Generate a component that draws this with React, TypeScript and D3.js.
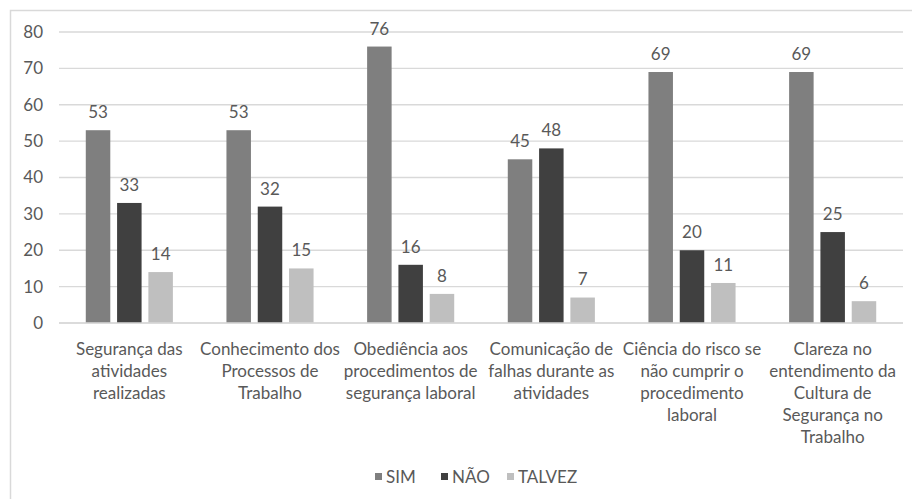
import React from "react";
import * as d3 from "d3";

const categories: string[][] = [
  ["Segurança das", "atividades", "realizadas"],
  ["Conhecimento dos", "Processos de", "Trabalho"],
  ["Obediência aos", "procedimentos de", "segurança laboral"],
  ["Comunicação de", "falhas durante as", "atividades"],
  ["Ciência do risco se", "não cumprir o", "procedimento", "laboral"],
  ["Clareza no", "entendimento da", "Cultura de", "Segurança no", "Trabalho"],
];
const seriesNames = ["SIM", "NÃO", "TALVEZ"];
const simValues = [53, 53, 76, 45, 69, 69];
const naoValues = [33, 32, 16, 48, 20, 25];
const talvezValues = [14, 15, 8, 7, 11, 6];
const yTicks = [0, 10, 20, 30, 40, 50, 60, 70, 80];

const colors = ["#7f7f7f", "#404040", "#bfbfbf"];
const W = 912;
const H = 499;
const FONT = "Lato, sans-serif";
const TXT = "#595959";
const FS = 17;

export default function App() {
  const series = [simValues, naoValues, talvezValues];
  const left = 59;
  const right = 903;
  const top = 32;
  const bottom = 323;
  const y = d3.scaleLinear().domain([0, 80]).range([bottom, top]);
  const x0 = d3
    .scaleBand<number>()
    .domain(categories.map((_, i) => i))
    .range([left, right])
    .paddingInner(0)
    .paddingOuter(0);
  const bw = x0.bandwidth();
  const barW = 24.5;
  const step = 31.3;
  const x1 = d3
    .scaleLinear()
    .domain([0, 2])
    .range([bw / 2 - step - barW / 2, bw / 2 + step - barW / 2]);

  const legendX = [375, 441, 507];

  return (
    <svg
      width={W}
      height={H}
      style={{ position: "absolute", left: 0, top: 0, display: "block", background: "#fff" }}
      fontFamily={FONT}
    >
      <rect x={0} y={0} width={W} height={H} fill="#fff" />
      <rect x={10.5} y={10.5} width={W + 20} height={H + 20} fill="none" stroke="#d9d9d9" strokeWidth={1.5} />
      {yTicks.map((t) => (
        <g key={t}>
          <line x1={left} x2={right} y1={y(t)} y2={y(t)} stroke="#d9d9d9" strokeWidth={1.3} />
          <text x={43} y={y(t)} dy="0.35em" textAnchor="end" fontSize={FS} fill={TXT}>
            {t}
          </text>
        </g>
      ))}
      {categories.map((cat, i) => (
        <g key={i} transform={`translate(${x0(i)},0)`}>
          {series.map((vals, s) => (
            <g key={s}>
              <rect
                x={x1(s)}
                y={y(vals[i])}
                width={barW}
                height={bottom - y(vals[i])}
                fill={colors[s]}
              />
              <text
                x={x1(s) + barW / 2}
                y={y(vals[i]) - 18}
                dy="0.35em"
                textAnchor="middle"
                fontSize={FS}
                fill={TXT}
              >
                {vals[i]}
              </text>
            </g>
          ))}
          {cat.map((line, li) => (
            <text
              key={li}
              x={bw / 2}
              y={349 + li * 22}
              dy="0.35em"
              textAnchor="middle"
              fontSize={FS}
              fill={TXT}
            >
              {line}
            </text>
          ))}
        </g>
      ))}
      <line x1={left} x2={right} y1={bottom} y2={bottom} stroke="#d9d9d9" strokeWidth={1.3} />
      {seriesNames.map((name, s) => (
        <g key={name}>
          <rect x={legendX[s]} y={473} width={7} height={7} fill={colors[s]} />
          <text x={legendX[s] + 11} y={477} dy="0.35em" fontSize={FS} fill={TXT}>
            {name}
          </text>
        </g>
      ))}
    </svg>
  );
}
